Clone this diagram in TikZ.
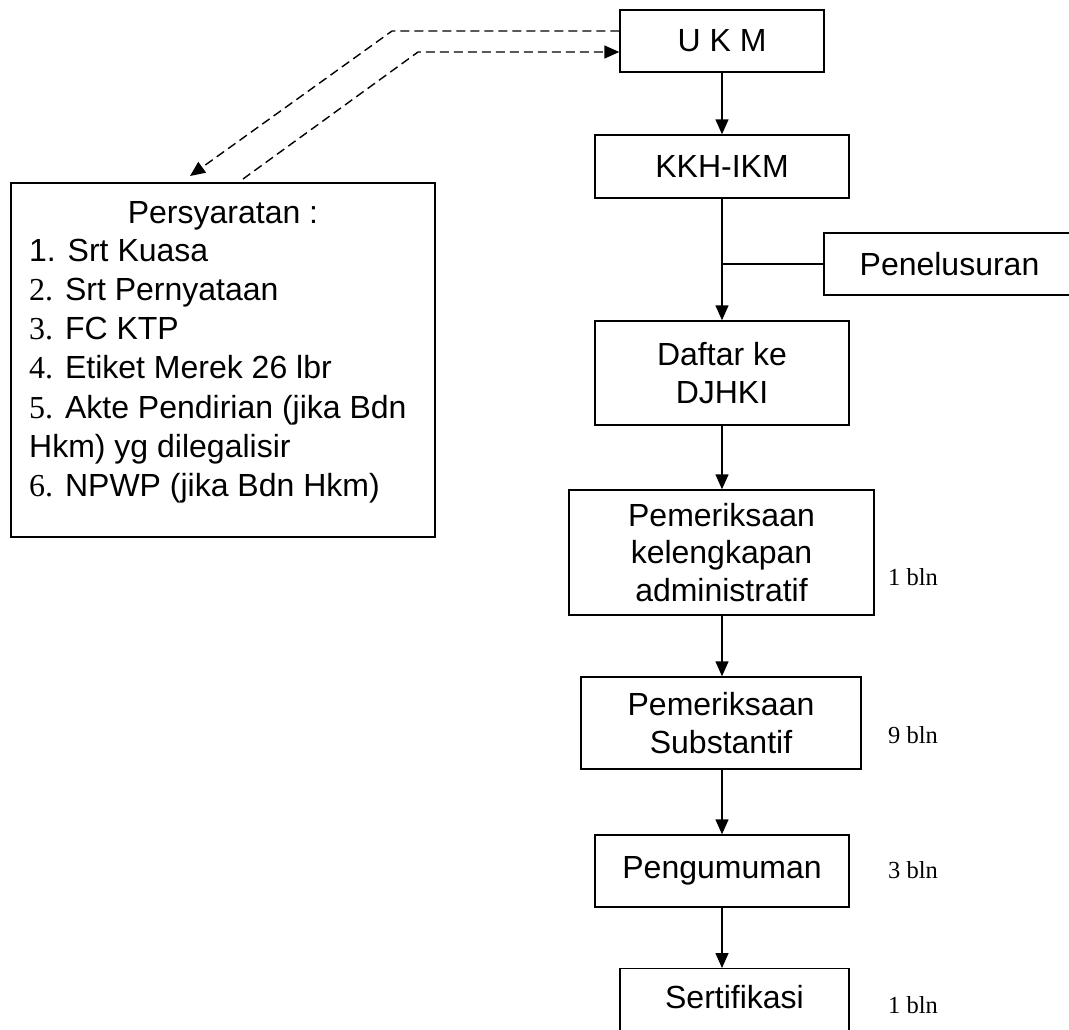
\documentclass[tikz,border=0pt]{standalone}
\usepackage{fontspec}
\setmainfont{Liberation Sans}
\newfontfamily\tms{Liberation Serif}
\usetikzlibrary{arrows.meta}
\begin{document}
\begin{tikzpicture}[x=1pt,y=-1pt,
  box/.style={draw, line width=1.4pt, inner sep=0pt, align=center, font=\fontsize{32}{37.5}\selectfont},
  flow/.style={line width=1.4pt, -{Triangle[length=15pt,width=13pt]}},
  dflow/.style={line width=1.4pt, dash pattern=on 9pt off 5pt, -{Triangle[length=15pt,width=13pt]}},
  plain/.style={line width=1.4pt},
  item/.style={anchor=base west, inner sep=0pt, font=\fontsize{32}{39}\selectfont},
  dur/.style={anchor=west, inner sep=0pt, font=\tms\fontsize{24.5}{28}\selectfont}]
\clip (0,0) rectangle (1069,1029);
\fill[white] (0,0) rectangle (1069,1029);

% right column
\node[box, minimum width=204pt, minimum height=62pt] (ukm) at (722,41) {U K M};
\node[box, minimum width=254pt, minimum height=63pt] (kkh) at (722,166.5) {KKH-IKM};
\node[box, minimum width=251pt, minimum height=62pt] (pen) at (949.5,264) {Penelusuran};
\node[box, minimum width=254pt, minimum height=104pt] (daftar) at (722,373) {Daftar ke\\DJHKI};
\node[box, minimum width=305pt, minimum height=125pt] (admin) at (721.5,552.5) {Pemeriksaan\\kelengkapan\\administratif};
\node[box, minimum width=280pt, minimum height=92pt] (subst) at (721,723) {Pemeriksaan\\Substantif};
\node[box, minimum width=254pt, minimum height=72pt] (umum) at (722,871) {Pengumuman};
\node[box, minimum width=229pt, text height=40pt, text depth=42pt, anchor=north] (sert) at (734.5,968) {Sertifikasi};

% durations
\node[dur] (d1) at (888,577) {1 bln};
\node[dur] (d2) at (888,735) {9 bln};
\node[dur] (d3) at (888,870) {3 bln};
\node[dur] (d4) at (888,1005) {1 bln};

% requirements box
\node[draw, line width=1.4pt, minimum width=424pt, minimum height=354pt, inner sep=0pt] (req) at (223,360) {};
\node[anchor=base, inner sep=0pt, font=\fontsize{32}{39}\selectfont] (r0) at (223,223) {Persyaratan :};
\node[item] (r1) at (29,261) {1. Srt Kuasa};
\node[item] (r2) at (29,300) {{\tms 2.} Srt Pernyataan};
\node[item] (r3) at (29,339) {{\tms 3.} FC KTP};
\node[item] (r4) at (29,378) {{\tms 4.} Etiket Merek 26 lbr};
\node[item] (r5) at (29,418) {{\tms 5.} Akte Pendirian (jika Bdn};
\node[item] (r5b) at (29,457) {Hkm) yg dilegalisir};
\node[item] (r6) at (29,496) {{\tms 6.} NPWP (jika Bdn Hkm)};

% flow arrows
\draw[flow] (ukm.south) -- (ukm.south |- kkh.north);
\draw[flow] (kkh.south) -- (kkh.south |- daftar.north);
\draw[plain] (pen.west) -- (pen.west -| kkh.south);
\draw[flow] (daftar.south) -- (daftar.south |- admin.north);
\draw[flow] (admin.south -| daftar.south) -- (daftar.south |- subst.north);
\draw[flow] (subst.south -| daftar.south) -- (daftar.south |- umum.north);
\draw[flow] (umum.south) -- (umum.south |- sert.north);

% dashed links
\coordinate (reqin) at (190,176);
\coordinate (reqout) at (243,179);
\draw[dflow] ([yshift=10pt]ukm.west) -- (392,31) -- (reqin);
\draw[dflow] (reqout) -- (418,52) -- ([yshift=-11pt]ukm.west);
\end{tikzpicture}
\end{document}
